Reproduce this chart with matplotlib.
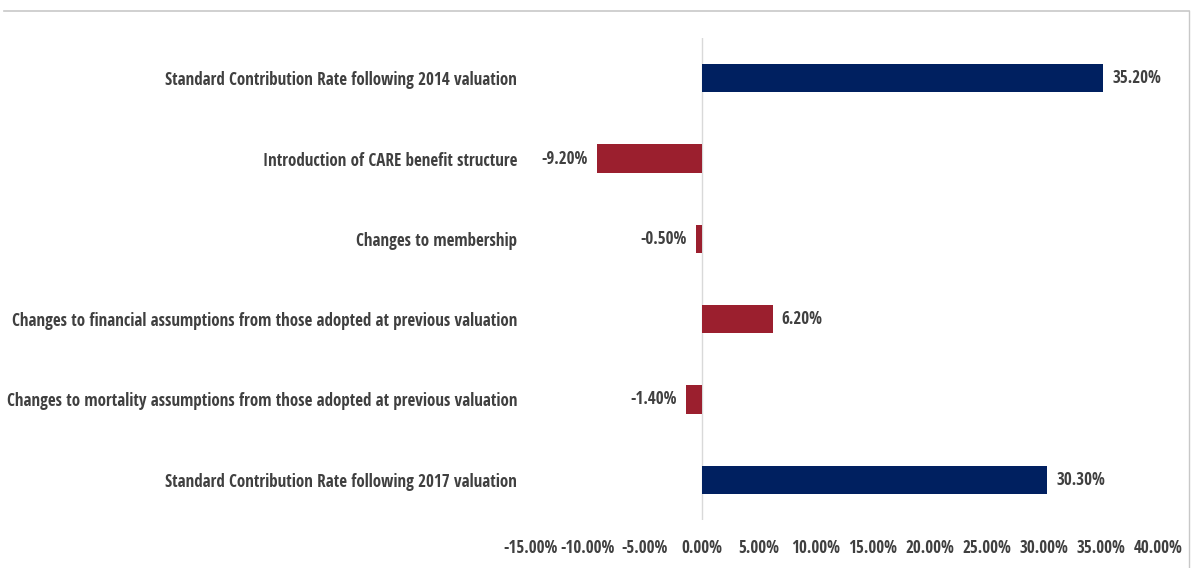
import matplotlib
matplotlib.use("Agg")
import matplotlib.pyplot as plt
from matplotlib.ticker import FuncFormatter, MultipleLocator
from matplotlib.lines import Line2D

# contribution rate steps, top to bottom
categories = [
    "Standard Contribution Rate following 2014 valuation",
    "Introduction of CARE benefit structure",
    "Changes to membership",
    "Changes to financial assumptions from those adopted at previous valuation",
    "Changes to mortality assumptions from those adopted at previous valuation",
    "Standard Contribution Rate following 2017 valuation",
]
values = [35.2, -9.2, -0.5, 6.2, -1.4, 30.3]
is_total = [True, False, False, False, False, True]

navy = "#002060"
red = "#9B1F2E"
text_col = "#404040"

plt.rcParams["font.family"] = ["Open Sans Condensed", "Carlito", "DejaVu Sans"]
plt.rcParams["font.weight"] = "bold"

W, H = 1192, 568
fig = plt.figure(figsize=(W / 100, H / 100), dpi=100)

# size the text so the longest category name is about 505 px wide
renderer = fig.canvas.get_renderer()
probe = fig.text(0, 0, max(categories, key=len), fontsize=10, fontweight="bold")
w10 = probe.get_window_extent(renderer).width
probe.remove()
fs = 10 * 505 / w10

ax = fig.add_axes([531 / W, (H - 520) / H, (1158 - 531) / W, (520 - 38) / H])

ypos = list(range(len(categories)))
colors = [navy if t else red for t in is_total]
ax.barh(ypos, values, height=0.35, color=colors, zorder=3)

ax.set_xlim(-15, 40)
ax.set_ylim(len(categories) - 0.5, -0.5)
ax.xaxis.set_major_locator(MultipleLocator(5))
ax.xaxis.set_major_formatter(FuncFormatter(lambda v, p: f"{v:.2f}%"))
ax.set_yticks(ypos)
ax.set_yticklabels(categories)

for s in ax.spines.values():
    s.set_visible(False)
ax.axvline(0, color="#d9d9d9", lw=1, zorder=1)
ax.tick_params(axis="both", length=0, labelsize=fs, colors=text_col)
ax.tick_params(axis="y", pad=10)
ax.tick_params(axis="x", pad=14)

for y, v in zip(ypos, values):
    if v >= 0:
        ax.text(v + 0.8, y, f"{v:.2f}%", va="center", ha="left",
                fontsize=fs, color=text_col, fontweight="bold")
    else:
        ax.text(v - 0.8, y, f"{v:.2f}%", va="center", ha="right",
                fontsize=fs, color=text_col, fontweight="bold")

# thin chart frame along top and right
fig.add_artist(Line2D([4 / W, 1189 / W], [1 - 11 / H, 1 - 11 / H],
                      transform=fig.transFigure, color="#c8c8c8", lw=1.2))
fig.add_artist(Line2D([1189 / W, 1189 / W], [1 - 11 / H, 0],
                      transform=fig.transFigure, color="#c8c8c8", lw=1.0))

fig.savefig("out.png", dpi=100)
